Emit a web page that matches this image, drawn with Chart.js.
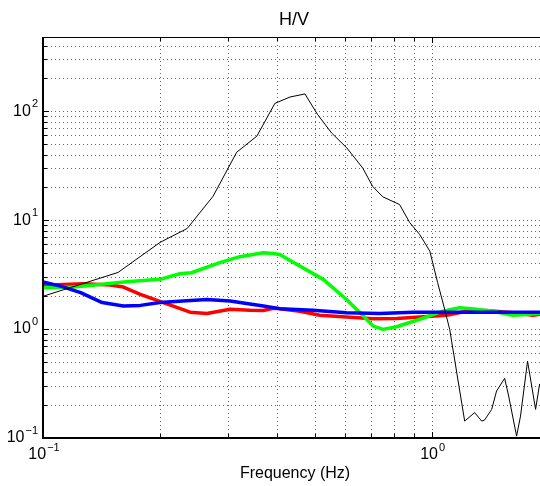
<!DOCTYPE html>
<html>
<head>
<meta charset="utf-8">
<script src="https://cdn.jsdelivr.net/npm/chart.js@4.4.1/dist/chart.umd.min.js"></script>
<style>
html, body { margin: 0; padding: 0; background: #fff; }
#wrap { width: 540px; height: 486px; }
</style>
</head>
<body>
<div id="wrap"><canvas id="hv"></canvas></div>
<script>
// H/V curves (frequency in Hz, ratio)
const blackFreq = [0.1, 0.156, 0.2, 0.235, 0.274, 0.315, 0.355, 0.395, 0.432, 0.472, 0.509, 0.553, 0.605, 0.665, 0.705, 0.748, 0.827, 0.878, 0.931, 0.989, 1.036, 1.08, 1.113, 1.216, 1.29, 1.345, 1.368, 1.427, 1.469, 1.541, 1.578, 1.654, 1.693, 1.765, 1.851, 1.895];
const blackHV = [2.0, 3.31, 6.24, 8.39, 16.6, 42, 59, 118, 135, 144, 93, 63, 46, 30, 20.4, 16.4, 13.9, 9.5, 7.4, 5.2, 2.67, 1.52, 0.99, 0.143, 0.171, 0.143, 0.146, 0.183, 0.27, 0.353, 0.243, 0.104, 0.159, 0.508, 0.183, 0.311];

const redFreq = [0.1, 0.127, 0.149, 0.161, 0.178, 0.204, 0.239, 0.264, 0.303, 0.341, 0.369, 0.391, 0.407, 0.458, 0.515, 0.604, 0.707, 0.812, 0.932, 1.091, 1.228, 1.382, 1.618, 1.822, 1.895];
const redHV = [2.52, 2.61, 2.54, 2.43, 2.08, 1.75, 1.43, 1.39, 1.52, 1.49, 1.48, 1.55, 1.54, 1.46, 1.34, 1.29, 1.245, 1.25, 1.29, 1.34, 1.46, 1.48, 1.41, 1.34, 1.365];

const greenFreq = [0.1, 0.12, 0.14, 0.164, 0.2, 0.225, 0.241, 0.285, 0.321, 0.369, 0.391, 0.407, 0.43, 0.526, 0.604, 0.66, 0.707, 0.75, 0.812, 0.932, 1.069, 1.18, 1.302, 1.438, 1.618, 1.786, 1.895];
const greenHV = [2.40, 2.43, 2.57, 2.72, 2.86, 3.22, 3.29, 4.07, 4.62, 5.02, 4.95, 4.84, 4.3, 2.86, 1.87, 1.365, 1.066, 0.994, 1.05, 1.23, 1.46, 1.57, 1.52, 1.46, 1.34, 1.365, 1.40];

const blueFreq = [0.1, 0.111, 0.125, 0.142, 0.161, 0.178, 0.2, 0.229, 0.264, 0.303, 0.334, 0.369, 0.407, 0.495, 0.604, 0.735, 0.895, 1.091, 1.328, 1.895];
const blueHV = [2.70, 2.48, 2.16, 1.75, 1.63, 1.65, 1.75, 1.81, 1.87, 1.81, 1.72, 1.63, 1.54, 1.49, 1.41, 1.39, 1.43, 1.43, 1.43, 1.43];

// grid / tick positions
const xGridTicks = [0.2, 0.3, 0.4, 0.5, 0.6, 0.7, 0.8, 0.9, 1];
const yGridTicks = [0.2, 0.3, 0.4, 0.5, 0.6, 0.7, 0.8, 0.9, 1, 2, 3, 4, 5, 6, 7, 8, 9, 10, 20, 30, 40, 50, 60, 70, 80, 90, 100, 200, 300, 400];
const xLabelTicks = [0.1, 1];
const yLabelTicks = [0.1, 1, 10, 100];

const FONT = '"Liberation Sans", Arial, Helvetica, sans-serif';

function pts(xs, ys) {
    return xs.map((x, i) => ({ x: x, y: ys[i] }));
}

// draws "10" with a raised exponent; align = 'right' or 'center'
function drawPow(ctx, value, x, y, align) {
    const e = Math.round(Math.log10(value));
    const base = '10';
    const exp = e < 0 ? '\u2212' + (-e) : String(e);
    ctx.font = '16px ' + FONT;
    const bw = ctx.measureText(base).width;
    ctx.font = '11px ' + FONT;
    const ew = ctx.measureText(exp).width;
    const total = bw + ew + 1;
    let left = align === 'right' ? x - total : x - total / 2;
    ctx.fillStyle = '#000';
    ctx.textAlign = 'left';
    ctx.textBaseline = 'middle';
    ctx.font = '16px ' + FONT;
    ctx.fillText(base, left, y);
    ctx.font = '11px ' + FONT;
    ctx.fillText(exp, left + bw + 1, y - 7);
}

const framePlugin = {
    id: 'frame',
    beforeDatasetsDraw(chart) {
        const { ctx, chartArea: a, scales: { x, y } } = chart;
        ctx.save();
        ctx.strokeStyle = 'rgba(0,0,0,0.6)';
        ctx.lineWidth = 1;
        ctx.setLineDash([1, 3]);
        xGridTicks.forEach(v => {
            const px = Math.round(x.getPixelForValue(v)) + 0.5;
            ctx.beginPath();
            ctx.moveTo(px, a.top);
            ctx.lineTo(px, a.bottom);
            ctx.stroke();
        });
        yGridTicks.forEach(v => {
            const py = Math.round(y.getPixelForValue(v)) + 0.5;
            ctx.beginPath();
            ctx.moveTo(a.left, py);
            ctx.lineTo(a.right, py);
            ctx.stroke();
        });
        ctx.restore();
    },
    afterDraw(chart) {
        const { ctx, chartArea: a, scales: { x, y } } = chart;
        ctx.save();
        ctx.strokeStyle = '#000';
        ctx.setLineDash([]);

        // axes box (no right edge in view)
        ctx.lineWidth = 2;
        ctx.beginPath();
        ctx.moveTo(a.left, a.top);
        ctx.lineTo(a.left, a.bottom);
        ctx.lineTo(a.right, a.bottom);
        ctx.stroke();
        ctx.lineWidth = 1;
        ctx.beginPath();
        ctx.moveTo(a.left, a.top + 0.5);
        ctx.lineTo(a.right, a.top + 0.5);
        ctx.stroke();

        // inward ticks
        ctx.lineWidth = 1;
        xGridTicks.forEach(v => {
            const px = Math.round(x.getPixelForValue(v)) + 0.5;
            const len = v === 1 ? 6 : 4;
            ctx.beginPath();
            ctx.moveTo(px, a.bottom);
            ctx.lineTo(px, a.bottom - len);
            ctx.moveTo(px, a.top);
            ctx.lineTo(px, a.top + len);
            ctx.stroke();
        });
        yGridTicks.forEach(v => {
            const py = Math.round(y.getPixelForValue(v)) + 0.5;
            const len = yLabelTicks.includes(v) ? 6 : 4;
            ctx.beginPath();
            ctx.moveTo(a.left, py);
            ctx.lineTo(a.left + len, py);
            ctx.stroke();
        });

        // tick labels
        yLabelTicks.forEach(v => drawPow(ctx, v, a.left - 5, y.getPixelForValue(v), 'right'));
        xLabelTicks.forEach(v => drawPow(ctx, v, x.getPixelForValue(v) + 1, a.bottom + 17, 'center'));

        // title and axis label
        ctx.fillStyle = '#000';
        ctx.textAlign = 'center';
        ctx.textBaseline = 'middle';
        ctx.font = '18px ' + FONT;
        ctx.fillText('H/V', 294, 20);
        ctx.font = '16px ' + FONT;
        ctx.fillText('Frequency (Hz)', 295, 474);
        ctx.restore();
    }
};

const ctx = document.getElementById('hv').getContext('2d');
const hvChart = new Chart(ctx, {
    type: 'line',
    data: {
        datasets: [
            { data: pts(blackFreq, blackHV), borderColor: '#000000', borderWidth: 1 },
            { data: pts(blueFreq, blueHV), borderColor: '#0000ff', borderWidth: 3.5 },
            { data: pts(greenFreq, greenHV), borderColor: '#00ff00', borderWidth: 3.5 },
            { data: pts(redFreq, redHV), borderColor: '#ff0000', borderWidth: 3.5 }
        ]
    },
    options: {
        responsive: true,
        maintainAspectRatio: false,
        animation: false,
        layout: { padding: { left: 43, top: 37, right: 0, bottom: 48 } },
        elements: {
            point: { radius: 0 },
            line: { tension: 0, borderJoinStyle: 'round', borderCapStyle: 'round', fill: false }
        },
        plugins: {
            legend: { display: false },
            tooltip: { enabled: false },
            title: { display: false }
        },
        scales: {
            x: {
                type: 'logarithmic',
                min: 0.1,
                max: 1.9,
                grid: { display: false, drawTicks: false },
                border: { display: false },
                ticks: { display: false }
            },
            y: {
                type: 'logarithmic',
                min: 0.1,
                max: 480,
                grid: { display: false, drawTicks: false },
                border: { display: false },
                ticks: { display: false }
            }
        }
    },
    plugins: [framePlugin]
});
</script>
</body>
</html>
